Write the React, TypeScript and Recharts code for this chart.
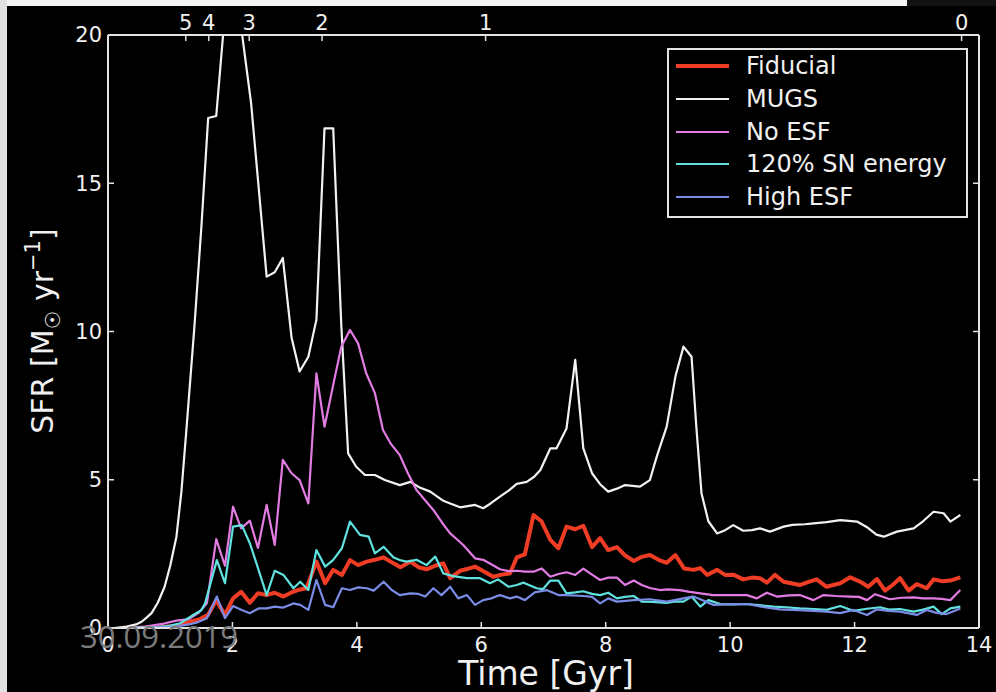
import { Legend, Line, LineChart, XAxis, YAxis } from "recharts";

// [time in Gyr, SFR in Msun/yr]
const fiducial: [number, number][] = [
  [0.3, 0], [0.8, 0.02], [1.1, 0.08], [1.32, 0.21], [1.48, 0.3], [1.61, 0.45], [1.74, 0.94], [1.88, 0.44],
  [2.01, 1.0], [2.14, 1.22], [2.28, 0.85], [2.41, 1.17], [2.55, 1.11], [2.68, 1.19], [2.82, 1.06], [2.95, 1.2],
  [3.05, 1.28], [3.19, 1.34], [3.35, 2.24], [3.49, 1.51], [3.62, 1.96], [3.76, 1.79], [3.89, 2.29], [4.02, 2.12],
  [4.16, 2.24], [4.29, 2.3], [4.43, 2.38], [4.59, 2.18], [4.7, 2.05], [4.86, 2.24], [4.99, 2.05], [5.12, 1.98],
  [5.26, 2.1], [5.39, 2.18], [5.5, 1.68], [5.66, 1.93], [5.79, 2.0], [5.9, 2.07], [6.05, 1.9], [6.19, 1.73],
  [6.33, 1.8], [6.46, 1.84], [6.57, 2.38], [6.7, 2.48], [6.84, 3.81], [6.97, 3.59], [7.11, 2.97], [7.24, 2.69],
  [7.37, 3.42], [7.51, 3.33], [7.64, 3.45], [7.78, 2.73], [7.91, 3.03], [8.04, 2.63], [8.18, 2.73], [8.31, 2.45],
  [8.45, 2.26], [8.58, 2.4], [8.71, 2.46], [8.85, 2.3], [8.98, 2.2], [9.12, 2.46], [9.26, 2.01], [9.41, 1.96],
  [9.52, 2.02], [9.63, 1.79], [9.79, 1.96], [9.92, 1.79], [10.05, 1.8], [10.21, 1.64], [10.35, 1.7], [10.48, 1.68],
  [10.59, 1.53], [10.72, 1.79], [10.86, 1.56], [11.0, 1.5], [11.12, 1.45], [11.25, 1.55], [11.39, 1.64], [11.55, 1.39],
  [11.66, 1.45], [11.77, 1.51], [11.93, 1.71], [12.09, 1.56], [12.22, 1.39], [12.36, 1.65], [12.49, 1.26], [12.61, 1.45],
  [12.73, 1.68], [12.87, 1.26], [13.0, 1.48], [13.16, 1.34], [13.27, 1.64], [13.4, 1.58], [13.54, 1.6], [13.7, 1.71],
];

const mugs: [number, number][] = [
  [0.1, 0], [0.3, 0.05], [0.45, 0.12], [0.54, 0.21], [0.62, 0.35], [0.7, 0.5], [0.8, 0.85], [0.91, 1.39],
  [1.0, 2.1], [1.1, 3.08], [1.18, 4.6], [1.26, 6.68], [1.32, 8.3], [1.39, 10.2], [1.5, 13.5], [1.61, 17.2],
  [1.74, 17.27], [1.97, 23.0], [2.3, 17.7], [2.55, 11.85], [2.68, 12.0], [2.81, 12.48], [2.95, 9.8], [3.08, 8.65],
  [3.22, 9.15], [3.35, 10.4], [3.48, 16.85], [3.62, 16.85], [3.75, 10.2], [3.86, 5.89], [3.99, 5.44], [4.13, 5.16],
  [4.29, 5.16], [4.45, 4.99], [4.69, 4.82], [4.86, 4.93], [5.0, 4.75], [5.18, 4.6], [5.39, 4.29], [5.5, 4.2],
  [5.66, 4.07], [5.9, 4.15], [6.03, 4.04], [6.15, 4.2], [6.3, 4.43], [6.45, 4.65], [6.57, 4.86], [6.73, 4.93],
  [6.85, 5.1], [6.95, 5.33], [7.11, 6.06], [7.21, 6.06], [7.37, 6.73], [7.51, 9.04], [7.64, 6.06], [7.78, 5.22],
  [7.91, 4.85], [8.04, 4.6], [8.18, 4.7], [8.31, 4.82], [8.55, 4.77], [8.71, 4.99], [8.82, 5.78], [8.98, 6.79],
  [9.12, 8.48], [9.25, 9.49], [9.38, 9.15], [9.46, 6.68], [9.54, 4.54], [9.65, 3.6], [9.79, 3.19], [9.92, 3.3],
  [10.05, 3.47], [10.21, 3.28], [10.35, 3.3], [10.48, 3.36], [10.64, 3.25], [10.86, 3.42], [11.0, 3.48], [11.2, 3.5],
  [11.34, 3.53], [11.55, 3.57], [11.77, 3.64], [12.04, 3.59], [12.2, 3.4], [12.35, 3.15], [12.47, 3.08], [12.68, 3.25],
  [12.95, 3.36], [13.1, 3.6], [13.27, 3.92], [13.43, 3.87], [13.54, 3.59], [13.7, 3.81],
];

const noEsf: [number, number][] = [
  [0.3, 0], [0.6, 0.05], [0.9, 0.15], [1.1, 0.25], [1.3, 0.3], [1.45, 0.5], [1.59, 0.83], [1.74, 3.0],
  [1.88, 2.1], [2.01, 4.09], [2.14, 3.36], [2.28, 3.62], [2.41, 2.7], [2.55, 4.15], [2.68, 2.8], [2.81, 5.67],
  [2.95, 5.22], [3.08, 4.99], [3.22, 4.2], [3.35, 8.59], [3.48, 6.79], [3.62, 8.2], [3.75, 9.49], [3.89, 10.05],
  [4.02, 9.6], [4.15, 8.59], [4.29, 7.92], [4.42, 6.68], [4.55, 6.2], [4.69, 5.83], [4.82, 5.22], [4.96, 4.65],
  [5.1, 4.3], [5.23, 3.98], [5.37, 3.55], [5.5, 3.19], [5.63, 2.95], [5.71, 2.8], [5.9, 2.35], [6.03, 2.3],
  [6.16, 2.15], [6.3, 1.98], [6.44, 1.92], [6.57, 1.93], [6.7, 1.9], [6.84, 1.9], [6.97, 2.01], [7.11, 1.73],
  [7.24, 1.82], [7.37, 1.88], [7.51, 1.79], [7.64, 2.0], [7.78, 1.8], [7.91, 1.62], [8.04, 1.7], [8.18, 1.7],
  [8.31, 1.45], [8.45, 1.6], [8.58, 1.45], [8.71, 1.35], [8.87, 1.28], [9.0, 1.3], [9.19, 1.28], [9.35, 1.22],
  [9.52, 1.17], [9.73, 1.11], [10.0, 1.11], [10.27, 1.11], [10.43, 1.0], [10.59, 1.19], [10.75, 1.06], [10.95, 1.1],
  [11.12, 1.11], [11.34, 0.94], [11.5, 1.11], [11.7, 1.08], [11.93, 1.06], [12.07, 1.05], [12.2, 0.94], [12.33, 1.14],
  [12.57, 0.97], [12.75, 1.02], [12.95, 1.03], [13.1, 1.0], [13.27, 1.0], [13.4, 0.98], [13.54, 0.94], [13.7, 1.28],
];

const snEnergy120: [number, number][] = [
  [0.3, 0], [0.8, 0.03], [1.0, 0.08], [1.16, 0.16], [1.37, 0.44], [1.5, 0.6], [1.56, 0.83], [1.75, 2.29],
  [1.88, 1.51], [2.01, 3.42], [2.15, 3.47], [2.28, 2.86], [2.42, 1.96], [2.55, 1.11], [2.68, 1.93], [2.82, 1.79],
  [2.98, 1.34], [3.09, 1.56], [3.22, 1.28], [3.35, 2.63], [3.49, 2.07], [3.62, 2.3], [3.76, 2.69], [3.89, 3.59],
  [4.05, 3.14], [4.19, 3.08], [4.29, 2.52], [4.43, 2.74], [4.59, 2.38], [4.69, 2.29], [4.8, 2.24], [4.96, 2.3],
  [5.12, 2.12], [5.26, 2.41], [5.39, 1.84], [5.55, 1.75], [5.77, 1.68], [5.98, 1.68], [6.14, 1.51], [6.27, 1.64],
  [6.44, 1.39], [6.57, 1.45], [6.68, 1.53], [6.89, 1.34], [6.99, 1.31], [7.11, 1.6], [7.24, 1.6], [7.37, 1.17],
  [7.51, 1.2], [7.64, 1.24], [7.78, 1.15], [7.91, 1.11], [8.04, 1.19], [8.18, 1.0], [8.31, 1.05], [8.45, 1.08],
  [8.58, 0.89], [8.75, 0.88], [8.98, 0.85], [9.12, 0.9], [9.25, 0.89], [9.38, 1.06], [9.52, 0.72], [9.65, 0.94],
  [9.84, 0.81], [10.05, 0.8], [10.27, 0.81], [10.5, 0.76], [10.7, 0.72], [10.9, 0.7], [11.12, 0.66], [11.35, 0.64],
  [11.55, 0.61], [11.77, 0.74], [11.98, 0.58], [12.2, 0.65], [12.41, 0.7], [12.55, 0.62], [12.73, 0.64], [12.95, 0.55],
  [13.1, 0.62], [13.27, 0.72], [13.4, 0.47], [13.54, 0.66], [13.7, 0.72],
];

const highEsf: [number, number][] = [
  [0.3, 0], [0.8, 0.02], [1.1, 0.05], [1.3, 0.12], [1.45, 0.2], [1.59, 0.33], [1.75, 1.06], [1.88, 0.33],
  [2.01, 0.74], [2.15, 0.61], [2.28, 0.5], [2.42, 0.66], [2.55, 0.66], [2.68, 0.72], [2.82, 0.69], [2.98, 0.83],
  [3.09, 0.78], [3.22, 0.61], [3.35, 1.62], [3.49, 0.78], [3.62, 0.7], [3.76, 1.34], [3.89, 1.28], [4.02, 1.37],
  [4.16, 1.34], [4.27, 1.26], [4.43, 1.56], [4.56, 1.28], [4.69, 1.11], [4.86, 1.17], [4.99, 1.15], [5.1, 1.06],
  [5.23, 1.34], [5.36, 1.11], [5.5, 1.39], [5.63, 1.0], [5.77, 1.11], [5.9, 0.78], [6.03, 0.94], [6.16, 1.0],
  [6.3, 1.11], [6.46, 1.0], [6.57, 1.06], [6.7, 0.94], [6.86, 1.2], [7.05, 1.28], [7.24, 1.11], [7.37, 1.11],
  [7.64, 1.08], [7.78, 1.05], [7.91, 0.83], [8.04, 1.0], [8.18, 0.89], [8.45, 0.94], [8.71, 0.97], [8.98, 0.89],
  [9.25, 1.0], [9.41, 1.06], [9.52, 0.97], [9.73, 0.78], [10.0, 0.8], [10.27, 0.81], [10.55, 0.7], [10.8, 0.63],
  [11.1, 0.6], [11.34, 0.58], [11.55, 0.55], [11.77, 0.5], [11.98, 0.61], [12.2, 0.44], [12.36, 0.63], [12.55, 0.58],
  [12.73, 0.55], [13.0, 0.44], [13.16, 0.61], [13.3, 0.52], [13.48, 0.47], [13.7, 0.66],
];

const timeTicks = [0, 2, 4, 6, 8, 10, 12, 14];
const sfrTicks = [0, 5, 10, 15, 20];
// cosmic time (Gyr) at which redshift z is reached, for the top axis
const redshiftTimes = [1.25, 1.62, 2.27, 3.44, 6.07, 13.72];
const redshiftLabels = ["5", "4", "3", "2", "1", "0"];

const FONT = "'DejaVu Sans', sans-serif";
const FG = "#f0f0f0";
const FRAME = "#e2e2e2";

// xAxisId / yAxisId: the twin axes share the same domain, so MUGS is bound to them
// to make sure the top (redshift) and right axes get their ticks
const series = [
  { name: "Fiducial", points: fiducial, color: "#ef3d25", width: 4, xId: "t", yId: "l" },
  { name: "MUGS", points: mugs, color: "#f2f2f2", width: 2.2, xId: "z", yId: "r" },
  { name: "No ESF", points: noEsf, color: "#e27be2", width: 2.2, xId: "t", yId: "l" },
  { name: "120% SN energy", points: snEnergy120, color: "#5fe2df", width: 2.2, xId: "t", yId: "l" },
  { name: "High ESF", points: highEsf, color: "#7a8ce6", width: 2.2, xId: "t", yId: "l" },
];

const toRows = (pts: [number, number][]) => pts.map(([t, sfr]) => ({ t, sfr }));

function TimeTitle() {
  return (
    <text x={546} y={685} textAnchor="middle" fill={FG} fontSize={33} fontFamily={FONT}>
      Time [Gyr]
    </text>
  );
}

function SfrTitle() {
  return (
    <text transform="translate(53 331) rotate(-90)" textAnchor="middle" fill={FG} fontSize={30} fontFamily={FONT}>
      SFR [M
      <tspan fontSize={21} dy={7}>☉</tspan>
      <tspan dy={-7}> yr</tspan>
      <tspan fontSize={21} dy={-13}>−1</tspan>
      <tspan dy={13}>]</tspan>
    </text>
  );
}

function LegendBox() {
  return (
    <div
      style={{
        width: 301,
        height: 170,
        boxSizing: "border-box",
        border: `2px solid ${FRAME}`,
        background: "#000",
        paddingTop: 0,
      }}
    >
      {series.map((s) => (
        <div key={s.name} style={{ height: 32.7, display: "flex", alignItems: "center" }}>
          <svg width={77} height={10} style={{ flex: "none" }}>
            <line x1={7} x2={60} y1={5} y2={5} stroke={s.color} strokeWidth={s.width} />
          </svg>
          <span style={{ fontFamily: FONT, fontSize: 24, color: FG, whiteSpace: "nowrap" }}>{s.name}</span>
        </div>
      ))}
    </div>
  );
}

export default function App() {
  const tickStyle = { fill: FG, fontSize: 21, fontFamily: FONT };
  const axisLine = { stroke: FRAME, strokeWidth: 2 };
  const tickLine = { stroke: FRAME, strokeWidth: 1.5 };
  return (
    <div style={{ position: "relative", width: 996, height: 692, background: "#000", overflow: "hidden" }}>
      <style>{"body{margin:0}"}</style>
      <LineChart width={996} height={692} margin={{ top: 5, right: 16, bottom: 24, left: 48 }}>
        <XAxis
          xAxisId="t"
          dataKey="t"
          type="number"
          domain={[0, 14]}
          ticks={timeTicks}
          interval={0}
          allowDataOverflow
          height={40}
          axisLine={axisLine}
          tickLine={tickLine}
          tickSize={-6}
          tickMargin={15}
          tick={tickStyle}
          label={<TimeTitle />}
        />
        <XAxis
          xAxisId="z"
          dataKey="t"
          orientation="top"
          type="number"
          domain={[0, 14]}
          ticks={redshiftTimes}
          interval={0}
          allowDataOverflow
          height={30}
          axisLine={axisLine}
          tickLine={tickLine}
          tickSize={-6}
          tickMargin={11}
          tick={tickStyle}
          tickFormatter={(v: number) => redshiftLabels[redshiftTimes.indexOf(v)] ?? ""}
        />
        <YAxis
          yAxisId="l"
          type="number"
          domain={[0, 20]}
          ticks={sfrTicks}
          interval={0}
          allowDataOverflow
          width={60}
          axisLine={axisLine}
          tickLine={tickLine}
          tickSize={-6}
          tickMargin={12}
          tick={tickStyle}
          label={<SfrTitle />}
        />
        <YAxis
          yAxisId="r"
          orientation="right"
          type="number"
          domain={[0, 20]}
          ticks={sfrTicks}
          interval={0}
          allowDataOverflow
          width={1}
          axisLine={axisLine}
          tickLine={tickLine}
          tickSize={-6}
          tickFormatter={() => ""}
        />
        {series.map((s) => (
          <Line
            key={s.name}
            name={s.name}
            xAxisId={s.xId}
            yAxisId={s.yId}
            data={toRows(s.points)}
            dataKey="sfr"
            type="linear"
            stroke={s.color}
            strokeWidth={s.width}
            strokeLinejoin="round"
            dot={false}
            activeDot={false}
            isAnimationActive={false}
          />
        ))}
        <Legend
          layout="vertical"
          align="center"
          verticalAlign="middle"
          wrapperStyle={{ left: 667, top: 48, width: 301, height: 170 }}
          content={<LegendBox />}
        />
      </LineChart>
      <div style={{ position: "absolute", left: 0, top: 0, width: 907, height: 6, background: "#f3f3f3" }} />
      <div style={{ position: "absolute", left: 907, top: 0, width: 89, height: 6, background: "#121212" }} />
      <div style={{ position: "absolute", left: 0, top: 0, width: 7, height: 692, background: "#e2e2e2" }} />
      <svg style={{ position: "absolute", left: 0, top: 0, pointerEvents: "none" }} width={996} height={692}>
        <text x={80} y={648} fill="#7c7c7c" fontSize={31} fontFamily="'Open Sans', sans-serif">
          30.09.2019
        </text>
      </svg>
    </div>
  );
}
